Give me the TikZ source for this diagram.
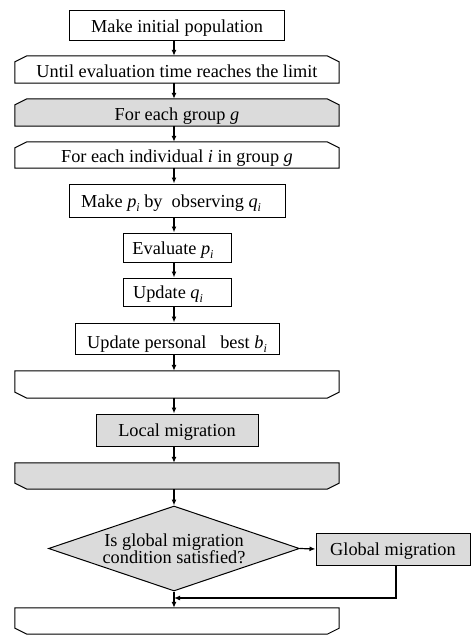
\documentclass[tikz,border=0pt]{standalone}
\usepackage{fontspec}
\setmainfont{Liberation Serif}
\usetikzlibrary{arrows.meta,shapes.geometric,backgrounds}
\newcommand\vsub[2]{\textit{#1}\raisebox{-0.22em}{\fontsize{12}{12}\selectfont\textit{#2}}}
\begin{document}
\begin{tikzpicture}[x=1pt,y=-1pt,
  every node/.style={font=\fontsize{18.3}{17}\selectfont, inner sep=0pt, align=center},
  tx/.style={text height=#1, text depth=0pt},
  tx/.default=13pt,
  box/.style={draw, line width=1pt, rectangle, fill=white, tx},
  gbox/.style={box, fill=black!14},
  loopbox/.style={rectangle, draw=none, tx=15pt},
  arr/.style={line width=1.2pt, -{Latex[length=6pt,width=5pt]}},
  cham/.style={draw, line width=1pt}
]
\useasboundingbox (0,0) rectangle (471,638);

% nodes
\node[box, tx=15.5pt, minimum width=215pt, minimum height=30pt] (init) at (177,25) {Make initial population};
\node[loopbox, minimum width=324pt, minimum height=27pt] (l1) at (177,69.5) {Until evaluation time reaches the limit};
\node[loopbox, minimum width=324pt, minimum height=27pt] (grp) at (177,112.5) {For each group \textit{g}};
\node[loopbox, minimum width=324pt, minimum height=26pt] (ind) at (177,155) {For each individual \textit{i} in group \textit{g}};
\node[box, minimum width=216pt, minimum height=33pt] (make) at (177,200.5) {Make \vsub{p}{i} by\ \ observing \vsub{q}{i}\hspace{12pt}};
\node[box, minimum width=108pt, minimum height=29pt] (eval) at (177,247.5) {Evaluate \vsub{p}{i}\hspace{8pt}};
\node[box, minimum width=108pt, minimum height=28pt] (updq) at (177,292) {Update \vsub{q}{i}\hspace{18pt}};
\node[box, tx=19pt, minimum width=204pt, minimum height=31pt] (pbest) at (177,338.5) {Update personal\ \ \ best \vsub{b}{i}};
\node[loopbox, minimum width=324pt, minimum height=27pt] (e1) at (177,384.5) {};
\node[gbox, minimum width=162pt, minimum height=32pt] (local) at (177,430) {Local migration};
\node[loopbox, minimum width=324pt, minimum height=26pt] (e2) at (177,476) {};
\node[diamond, draw, line width=1pt, fill=black!14, minimum width=251pt, minimum height=85pt, aspect=2.95] (dia) at (174,548.5) {};
\node[align=center] (diat) at (174,549) {Is global migration\\condition satisfied?};
\node[gbox, minimum width=154pt, minimum height=32pt] (glob) at (393,549) {Global migration};
\node[loopbox, minimum width=324pt, minimum height=26pt] (e3) at (177,621) {};

% chamfered loop shapes
\begin{scope}[on background layer]
  \foreach \n/\f in {l1/white, grp/black!14, ind/white}{
    \path[cham, fill=\f] ([xshift=12pt]\n.north west) -- ([xshift=-12pt]\n.north east)
      -- ([yshift=-6pt]\n.north east) -- (\n.south east) -- (\n.south west)
      -- ([yshift=-6pt]\n.north west) -- cycle;
  }
  \foreach \n/\f in {e1/white, e2/black!14, e3/white}{
    \path[cham, fill=\f] (\n.north west) -- (\n.north east)
      -- ([yshift=6pt]\n.south east) -- ([xshift=-12pt]\n.south east)
      -- ([xshift=12pt]\n.south west) -- ([yshift=6pt]\n.south west) -- cycle;
  }
\end{scope}

% connectors
\foreach \a/\b in {init/l1, l1/grp, grp/ind, ind/make, make/eval, eval/updq, updq/pbest, pbest/e1, e1/local, local/e2}{
  \draw[arr] ([xshift=-3pt]\a.south) -- ([xshift=-3pt]\b.north);
}
\draw[arr] ([xshift=-3pt]e2.south) -- (dia.north);
\draw[arr] (dia.east) -- (glob.west);
\coordinate (j) at (174,598);
\draw[arr] ([xshift=3pt]glob.south) |- (j);
\draw[arr] (dia.south) -- ([xshift=-3pt]e3.north);
\end{tikzpicture}
\end{document}
